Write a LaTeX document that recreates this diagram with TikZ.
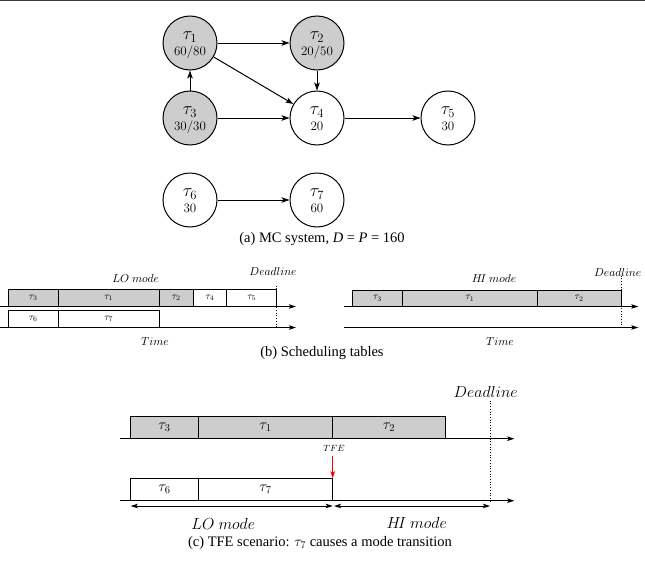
\RequirePackage{fix-cm}
\documentclass[tikz,border=0pt]{standalone}
\usepackage{fontspec}
\setmainfont{Liberation Serif}
\usetikzlibrary{arrows.meta}
\definecolor{fillg}{RGB}{205,205,205}
\definecolor{topline}{RGB}{60,60,60}
\begin{document}
\begin{tikzpicture}[x=1pt,y=-1pt,
  task/.style={circle,draw,line width=1pt,minimum size=54pt,inner sep=0pt},
  hitask/.style={task,fill=fillg},
  taulbl/.style={font=\fontsize{18}{18}\selectfont,inner sep=0pt,anchor=base},
  wlbl/.style={font=\fontsize{13}{13}\selectfont,inner sep=0pt,anchor=base},
  edge/.style={-{Stealth[length=8pt,width=5.5pt,inset=2pt]},line width=1pt},
  axis/.style={-{Stealth[length=7pt,width=4.5pt,inset=1.5pt]},line width=0.9pt},
  dbl/.style={{Stealth[length=7pt,width=4.5pt,inset=1.5pt]}-{Stealth[length=7pt,width=4.5pt,inset=1.5pt]},line width=0.9pt},
  gbox/.style={draw,fill=fillg,line width=0.8pt},
  wbox/.style={draw,fill=white,line width=0.8pt},
  smalltau/.style={font=\fontsize{10}{10}\selectfont},
  bigtau/.style={font=\fontsize{15}{15}\selectfont},
  lbl/.style={font=\fontsize{11.5}{11.5}\selectfont},
  biglbl/.style={font=\fontsize{16}{16}\selectfont},
  deadl/.style={dotted,line width=0.7pt},
  captext/.style={font=\fontsize{14.5}{14.5}\selectfont}
]
\useasboundingbox (0,0) rectangle (645,562);
\draw[topline,line width=1.5pt] (0,0.5) -- (645,0.5);

% ---------- (a) graph ----------
\newcommand{\tasknode}[6]{%
  \node[#1] (#2) at (#3,#4) {};
  \node[taulbl] (#2tau) at (#3,#4-3.5) {$\tau_{#5}$};
  \node[wlbl] (#2c) at (#3,#4+12) {$#6$};}
\tasknode{hitask}{t1}{190}{43}{1}{60/80}
\tasknode{hitask}{t2}{317}{43}{2}{20/50}
\tasknode{hitask}{t3}{190}{118}{3}{30/30}
\tasknode{task}{t4}{317}{118}{4}{20}
\tasknode{task}{t5}{448}{118}{5}{30}
\tasknode{task}{t6}{190}{200}{6}{30}
\tasknode{task}{t7}{317}{200}{7}{60}
\draw[edge] (t1) -- (t2);
\draw[edge] (t1) -- (t4);
\draw[edge] (t2) -- (t4);
\draw[edge] (t3) -- (t1);
\draw[edge] (t3) -- (t4);
\draw[edge] (t4) -- (t5);
\draw[edge] (t6) -- (t7);
\node[captext] (capa) at (322,239) {(a) MC system, \textit{D} = \textit{P} = 160};

% ---------- (b) left: LO mode ----------
\draw[gbox] (8.3,289) rectangle (58.3,306.5) node[midway,smalltau] (b3) {$\tau_3$};
\draw[gbox] (58.3,289) rectangle (159.3,306.5) node[midway,smalltau] (b1) {$\tau_1$};
\draw[gbox] (159.3,289) rectangle (193.3,306.5) node[midway,smalltau] (b2) {$\tau_2$};
\draw[wbox] (193.3,289) rectangle (226.7,306.5) node[midway,smalltau] (b4) {$\tau_4$};
\draw[wbox] (226.7,289) rectangle (276.7,306.5) node[midway,smalltau] (b5) {$\tau_5$};
\draw[wbox] (8.3,310.5) rectangle (58.3,327.5) node[midway,smalltau] (b6) {$\tau_6$};
\draw[wbox] (58.3,310.5) rectangle (159.3,327.5) node[midway,smalltau] (b7) {$\tau_7$};
\draw[axis] (0,306.5) -- (296,306.5);
\draw[axis] (0,327.5) -- (296,327.5);
\draw[deadl] (276.7,285.7) -- (276.7,327.5);
\node[lbl] (lomode) at (135.7,278.3) {$LO\ mode$};
\node[lbl] (dl1) at (273,272) {$Deadline$};
\node[lbl] (time1) at (155,341.7) {$Time$};

% ---------- (b) right: HI mode ----------
\draw[gbox] (352.3,290) rectangle (402.7,306.5) node[midway,smalltau] (h3) {$\tau_3$};
\draw[gbox] (402.7,290) rectangle (537.3,306.5) node[midway,smalltau] (h1) {$\tau_1$};
\draw[gbox] (537.3,290) rectangle (621,306.5) node[midway,smalltau] (h2) {$\tau_2$};
\draw[axis] (344,306.5) -- (638.3,306.5);
\draw[axis] (344,327.5) -- (638.3,327.5);
\draw[deadl] (621,275.7) -- (621,327.5);
\node[lbl] (himode) at (494,279) {$H\!I\ mode$};
\node[lbl] (dl2) at (617.7,272.3) {$Deadline$};
\node[lbl] (time2) at (500,341.7) {$Time$};
\node[captext] (capb) at (322,353) {(b) Scheduling tables};

% ---------- (c) TFE scenario ----------
\draw[gbox] (130.7,416) rectangle (198.3,438.7) node[midway,bigtau] (c3) {$\tau_3$};
\draw[gbox] (198.3,416) rectangle (332.7,438.7) node[midway,bigtau] (c1) {$\tau_1$};
\draw[gbox] (332.7,416) rectangle (445.3,438.7) node[midway,bigtau] (c2) {$\tau_2$};
\draw[wbox] (130.7,478.3) rectangle (198.3,500.7) node[midway,bigtau] (c6) {$\tau_6$};
\draw[wbox] (198.3,478.3) rectangle (332.7,500.7) node[midway,bigtau] (c7) {$\tau_7$};
\draw[axis] (120,438.7) -- (514.3,438.7);
\draw[axis] (120,500.7) -- (514.3,500.7);
\draw[deadl] (490,400.7) -- (490,500.7);
\node[font=\fontsize{16}{16}\selectfont] (dl3) at (485.7,392) {$Deadline$};
\node[font=\fontsize{9}{9}\selectfont] (tfe) at (334,448.7) {$TFE$};
\coordinate (tfetop) at (332.7,456);
\coordinate (tfebot) at (332.7,478.3);
\draw[red,line width=0.9pt,-{Stealth[length=7pt,width=4.5pt,inset=1.5pt]}] (tfetop) -- (tfebot);
\coordinate (lo1) at (130.7,506);
\coordinate (lo2) at (332.7,506);
\coordinate (hi1) at (334,506);
\coordinate (hi2) at (490,506);
\draw[dbl] (lo1) -- (lo2);
\draw[dbl] (hi1) -- (hi2);
\node[biglbl] (lo) at (223.3,524) {$LO\ mode$};
\node[biglbl] (hi) at (416.7,522.7) {$H\!I\ mode$};
\node[captext] (capc) at (320,543.3) {(c) TFE scenario: $\tau_7$ causes a mode transition};
\end{tikzpicture}
\end{document}
